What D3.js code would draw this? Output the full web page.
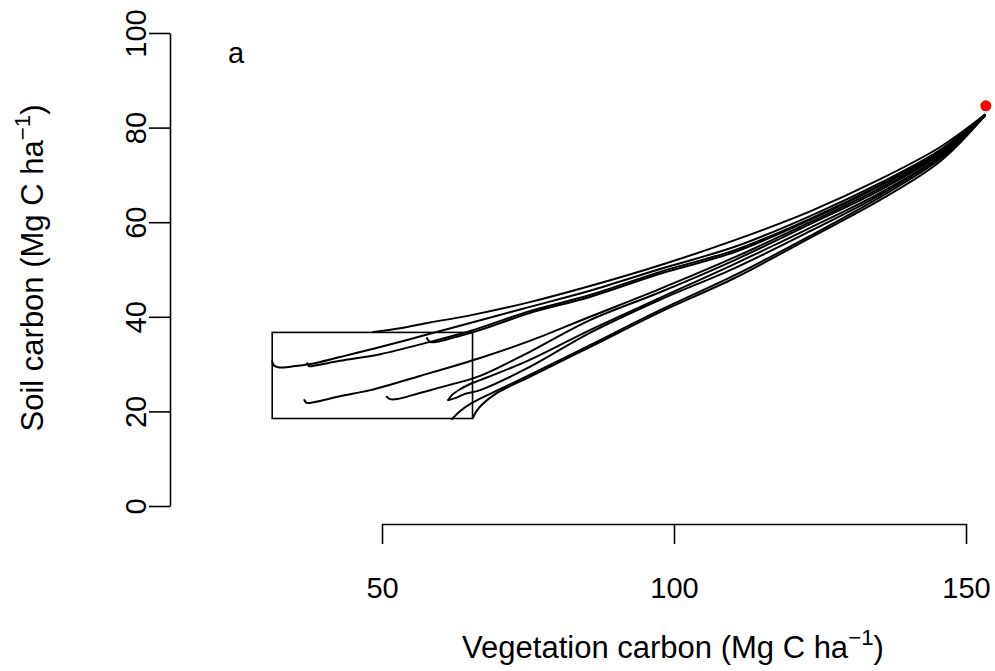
<!DOCTYPE html>
<html>
<head>
<meta charset="utf-8">
<script src="https://cdn.jsdelivr.net/npm/d3@7"></script>
<style>
  html, body { margin: 0; padding: 0; background: #fff; }
  svg { display: block; }
  text { font-family: "Liberation Sans", Arial, sans-serif; fill: #000; }
</style>
</head>
<body>
<svg id="chart" width="995" height="671"></svg>
<script>
// ---- data (vegetation carbon, soil carbon) in Mg C ha^-1 ----
const trajA = [[48.5,36.8],[53.1,37.6],[58.2,38.8],[65.1,40.3],[75.3,43.1],[85.6,46.5],[97.6,50.9],[110.4,56.2],[123.3,62.3],[135.3,69.1],[145.6,75.9],[153.2,82.7]];
const trajB = [[31.2,30.6],[31.5,29.7],[32.4,29.3],[34.6,29.5],[37.7,30.0],[42.8,31.5],[49.7,33.6],[58.2,36.4],[65.1,38.7],[75.3,42.1],[85.6,45.5],[97.6,50.1],[110.4,54.8],[123.3,61.3],[135.3,68.3],[145.6,75.3],[153.2,82.7]];
const trajC = [[37.2,30.2],[37.5,29.6],[38.5,29.7],[42.8,30.7],[49.7,32.1],[58.2,34.7],[65.1,37.0],[75.3,41.2],[85.6,44.6],[97.6,49.5],[110.4,54.1],[123.3,60.7],[135.3,67.9],[145.6,75.1],[153.2,82.7]];
const trajD = [[57.7,35.5],[58.2,34.7],[59.4,34.7],[62.5,35.7],[66.8,37.2],[75.3,40.8],[85.6,44.2],[97.6,49.1],[110.4,53.7],[123.3,60.5],[135.3,67.7],[145.6,74.8],[153.2,82.5]];
const trajE = [[36.7,22.4],[37.1,21.8],[38.5,22.0],[42.8,23.2],[48.0,24.5],[56.5,27.5],[66.8,31.3],[75.3,34.9],[85.6,40.0],[97.6,45.9],[110.4,52.6],[123.3,60.0],[135.3,67.2],[145.6,74.6],[153.2,82.5]];
const trajF = [[50.8,23.1],[51.4,22.6],[52.6,22.6],[56.5,23.9],[61.6,25.6],[66.8,27.5],[75.3,32.6],[85.6,39.3],[97.6,45.2],[110.4,52.0],[123.3,59.6],[135.3,66.8],[145.6,74.4],[153.2,82.5]];
const trajG1 = [[61.35,22.4],[62.0,23.5],[63.4,24.7],[65.1,25.8],[66.8,26.6],[75.3,30.9],[85.6,37.2],[97.6,44.0],[110.4,51.2],[123.3,58.8],[135.3,66.2],[145.6,74.0],[153.2,82.5]];
const trajG2 = [[61.35,22.4],[62.5,22.8],[64.2,23.7],[66.8,24.5],[75.3,29.4],[85.6,36.6],[97.6,43.6],[110.4,50.3],[123.3,58.1],[135.3,65.8],[145.6,73.8],[153.2,82.5]];
const trajH = [[62.0,18.4],[63.4,20.1],[65.4,21.8],[68.5,23.7],[75.3,27.7],[85.6,34.0],[97.6,41.4],[110.4,48.8],[123.3,57.1],[135.3,65.3],[145.6,73.4],[153.2,82.5]];
const trajI = [[65.6,18.7],[66.1,19.9],[67.1,21.4],[69.7,23.9],[75.3,27.3],[85.6,33.6],[97.6,41.0],[110.4,48.2],[123.3,56.7],[135.3,64.7],[145.6,72.9],[153.2,82.5]];
const trajectories = [trajA, trajB, trajC, trajD, trajE, trajF, trajG1, trajG2, trajH, trajI];

const equilibrium = [153.4, 84.6];          // red point
const zoomBox = [31.2, 65.5, 18.5, 36.7];   // xmin, xmax, ymin, ymax

const xTicks = [50, 100, 150];
const yTicks = [0, 20, 40, 60, 80, 100];
const xTitle = "Vegetation carbon (Mg C ha";
const yTitle = "Soil carbon (Mg C ha";
const panelLabel = "a";

// ---- drawing ----
const svg = d3.select("#chart");
svg.append("rect").attr("width", 995).attr("height", 671).attr("fill", "#fff");

const x = d3.scaleLinear().domain([50, 150]).range([382, 966]);
const y = d3.scaleLinear().domain([0, 100]).range([506, 33]);
const FS = 29;   // tick labels
const TS = 31;   // axis titles

// x axis
const gx = svg.append("g").attr("transform", "translate(0,524)")
  .call(d3.axisBottom(x).tickValues(xTicks).tickSize(20).tickSizeOuter(0).tickFormat(d3.format("d")));
gx.select(".domain").attr("stroke", "#000").attr("stroke-width", 1.6);
gx.selectAll(".tick line").attr("stroke", "#000").attr("stroke-width", 1.6);
gx.selectAll(".tick text").attr("y", 74).attr("dy", null)
  .attr("font-size", FS).attr("font-family", "Liberation Sans, Arial, sans-serif");

// y axis
const gy = svg.append("g").attr("transform", "translate(170,0)")
  .call(d3.axisLeft(y).tickValues(yTicks).tickSize(21).tickSizeOuter(0).tickFormat(d3.format("d")));
gy.select(".domain").attr("stroke", "#000").attr("stroke-width", 1.6);
gy.selectAll(".tick line").attr("stroke", "#000").attr("stroke-width", 1.6);
gy.selectAll(".tick text")
  .attr("transform", "rotate(-90)")
  .attr("x", 0).attr("y", -24).attr("dy", null)
  .attr("text-anchor", "middle")
  .attr("font-size", FS).attr("font-family", "Liberation Sans, Arial, sans-serif");

// zoom rectangle
svg.append("rect")
  .attr("x", x(zoomBox[0])).attr("y", y(zoomBox[3]))
  .attr("width", x(zoomBox[1]) - x(zoomBox[0]))
  .attr("height", y(zoomBox[2]) - y(zoomBox[3]))
  .attr("fill", "none").attr("stroke", "#000").attr("stroke-width", 1.6);

// trajectories
const line = d3.line().x(d => x(d[0])).y(d => y(d[1])).curve(d3.curveCatmullRom.alpha(0.5));
svg.append("g").selectAll("path").data(trajectories).join("path")
  .attr("d", line).attr("fill", "none").attr("stroke", "#000")
  .attr("stroke-width", 2).attr("stroke-linejoin", "round").attr("stroke-linecap", "round");

// equilibrium point
svg.append("circle").attr("cx", x(equilibrium[0])).attr("cy", y(equilibrium[1]))
  .attr("r", 5.5).attr("fill", "#ff0000");

// titles
const xt = svg.append("text").attr("x", 673).attr("y", 658).attr("text-anchor", "middle").attr("font-size", TS);
xt.append("tspan").text(xTitle);
xt.append("tspan").attr("font-size", TS * 0.72).attr("dy", -13).text("\u22121");
xt.append("tspan").attr("dy", 13).text(")");

const yt = svg.append("text").attr("transform", "translate(43,268) rotate(-90)").attr("text-anchor", "middle").attr("font-size", TS);
yt.append("tspan").text(yTitle);
yt.append("tspan").attr("font-size", TS * 0.72).attr("dy", -13).text("\u22121");
yt.append("tspan").attr("dy", 13).text(")");

svg.append("text").attr("x", 236).attr("y", 63).attr("text-anchor", "middle").attr("font-size", FS).text(panelLabel);
</script>
</body>
</html>
